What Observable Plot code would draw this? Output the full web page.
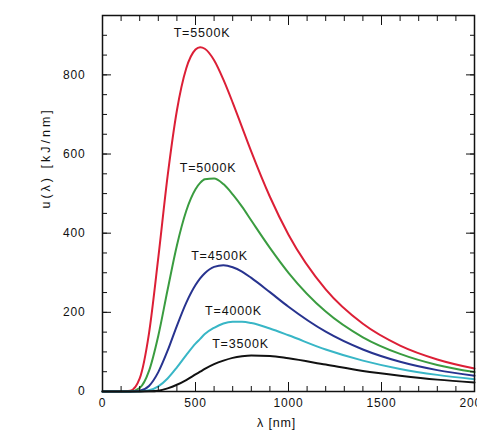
<!DOCTYPE html>
<html><head><meta charset="utf-8">
<script src="https://cdn.jsdelivr.net/npm/d3@7"></script>
<script src="https://cdn.jsdelivr.net/npm/@observablehq/plot@0.6"></script>
<style>body{margin:0;background:#fff;overflow:hidden}</style>
</head><body><div id="chart"></div>
<script>
// wavelength samples [nm]
const lambda = [0, 100, 150, 200, 250, 300, 350, 400, 450, 500, 525, 550, 600, 650, 700, 750, 800, 900, 1000, 1200, 1400, 1600, 1800, 2000];
// spectral values
const u5500 = [0, 0, 2, 33, 147, 338, 544, 710, 816, 864, 870, 866, 837, 788, 730, 668, 606, 492, 396, 258, 171, 116, 81, 58];
const u5000 = [0, 0, 0.3, 9, 52, 141, 257, 369, 456, 511, 527, 536, 538, 524, 498, 467, 432, 363, 300, 202, 137, 95, 67, 49];
const u4500 = [0, 0, 0, 2, 14, 49, 103, 166, 224, 269, 286, 299, 315, 319, 314, 303, 287, 251, 214, 151, 106, 75, 54, 40];
const u4000 = [0, 0, 0, 0.2, 3, 13, 33, 61, 92, 121, 133, 145, 161, 172, 176, 176, 173, 159, 142, 106, 78, 57, 42, 31];
const u3500 = [0, 0, 0, 0, 0.4, 2, 8, 17, 29, 43, 50, 57, 69, 78, 85, 89, 91, 90, 84, 68, 52, 40, 30, 23];

const seriesNames = ["T=5500K", "T=5000K", "T=4500K", "T=4000K", "T=3500K"];
const seriesValues = [u5500, u5000, u4500, u4000, u3500];
const seriesColors = ["#dc1f36", "#3a9c40", "#27338f", "#38b6c6", "#111111"];
// label anchor points (data coordinates)
const labelLambda = [535, 568, 629, 704, 742];
const labelU = [905, 565, 343, 204, 119];

const xMajor = [0, 500, 1000, 1500, 2000];
const xMinor = d3.range(0, 2001, 100);
const yMajor = [0, 200, 400, 600, 800];
const yMinor = d3.range(0, 951, 50);

const font = "'Liberation Sans', Arial, Helvetica, sans-serif";
const MAJ = 9, MIN = 5;

const lineMarks = seriesValues.map((vals, i) =>
  Plot.line(lambda.map((l, j) => ({l, u: vals[j]})), {
    x: "l", y: "u", stroke: seriesColors[i], strokeWidth: 2, curve: "monotone-x"
  })
);

const labels = seriesNames.map((name, i) => ({name, l: labelLambda[i], u: labelU[i]}));

const chart = Plot.plot({
  width: 477,
  height: 432,
  marginLeft: 102,
  marginRight: 3,
  marginTop: 15,
  marginBottom: 41,
  style: {fontFamily: font, fontSize: "12px", color: "#111", background: "#fff", overflow: "hidden"},
  x: {domain: [0, 2000]},
  y: {domain: [0, 950]},
  marks: [
    ...lineMarks,
    // inward ticks
    Plot.axisX({anchor: "bottom", ticks: xMajor, tickSize: MAJ, dy: -MAJ, text: null, label: null, stroke: "#111"}),
    Plot.axisX({anchor: "bottom", ticks: xMinor, tickSize: MIN, dy: -MIN, text: null, label: null, stroke: "#111"}),
    Plot.axisX({anchor: "top", ticks: xMajor, tickSize: MAJ, dy: MAJ, text: null, label: null, stroke: "#111"}),
    Plot.axisX({anchor: "top", ticks: xMinor, tickSize: MIN, dy: MIN, text: null, label: null, stroke: "#111"}),
    Plot.axisY({anchor: "left", ticks: yMajor, tickSize: MAJ, dx: MAJ, text: null, label: null, stroke: "#111"}),
    Plot.axisY({anchor: "left", ticks: yMinor, tickSize: MIN, dx: MIN, text: null, label: null, stroke: "#111"}),
    Plot.axisY({anchor: "right", ticks: yMajor, tickSize: MAJ, dx: -MAJ, text: null, label: null, stroke: "#111"}),
    Plot.axisY({anchor: "right", ticks: yMinor, tickSize: MIN, dx: -MIN, text: null, label: null, stroke: "#111"}),
    // tick labels
    Plot.axisX({anchor: "bottom", ticks: xMajor, tickSize: 0, tickPadding: 7, label: null, tickFormat: d3.format("d"), fontSize: 12, fill: "#111"}),
    Plot.axisY({anchor: "left", ticks: yMajor, tickSize: 0, tickPadding: 17, label: null, tickFormat: d3.format("d"), fontSize: 12, fill: "#111"}),
    Plot.frame({stroke: "#111", strokeWidth: 1.5}),
    Plot.text(labels, {x: "l", y: "u", text: "name", fontSize: 12.5, fill: "#111"}),
    Plot.text(["λ [nm]"], {frameAnchor: "bottom", dx: -12, dy: 35, fontSize: 12.5, fill: "#111"}),
    Plot.text(["u(λ) [kJ/nm]"], {frameAnchor: "left", rotate: -90, dx: -57, dy: 5, fontSize: 12.5, fill: "#111"})
  ]
});
// the reference's lettering is set wide
d3.select(chart).selectAll("text").attr("letter-spacing", "0.8px");
d3.select(chart).selectAll("text").filter(function() { return this.textContent === "u(λ) [kJ/nm]"; })
  .attr("letter-spacing", "3px");
document.getElementById("chart").appendChild(chart);
</script>
</body></html>
